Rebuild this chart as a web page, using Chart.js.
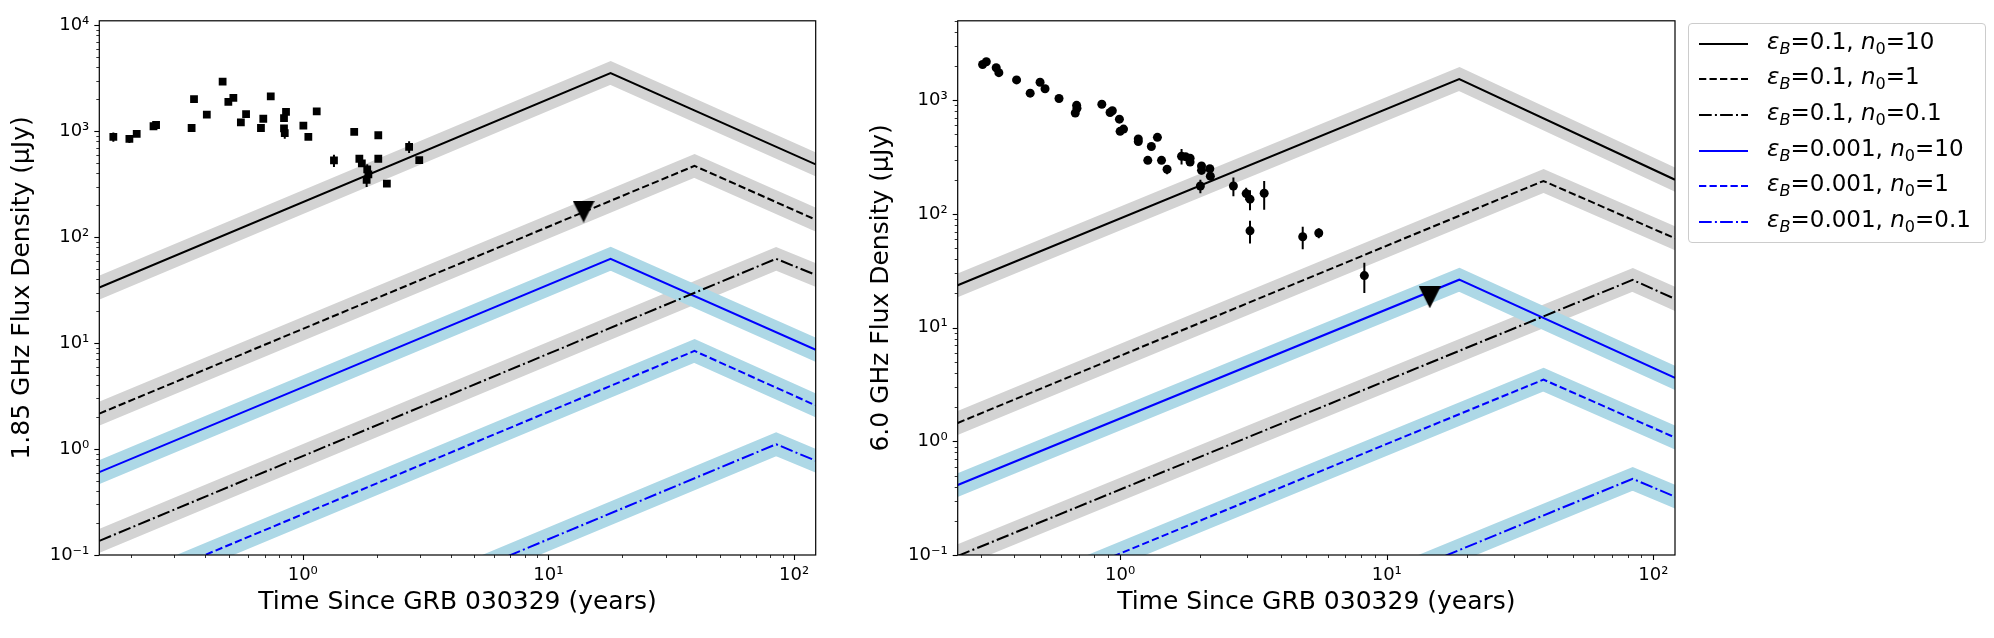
<!DOCTYPE html>
<html>
<head>
<meta charset="utf-8">
<script src="https://cdn.jsdelivr.net/npm/chart.js@4.4.1/dist/chart.umd.min.js"></script>
<style>
  body { margin: 0; background: #fff; width: 1994px; height: 638px; position: relative; overflow: hidden; font-family: 'DejaVu Sans', sans-serif; }
  .panel { position: absolute; top: 0; }
  #legend { position: absolute; left: 1688px; top: 23px; width: 296px; height: 218px; border: 1px solid #cccccc; border-radius: 4px; background: rgba(255,255,255,0.8); }
  .row { position: absolute; left: 0; height: 36px; width: 100%; }
  .row svg { position: absolute; left: 10px; top: 16px; }
  .row span { position: absolute; left: 78px; top: 2px; font-size: 23px; color: #000; white-space: nowrap; }
  .row sub { font-size: 70%; vertical-align: -0.28em; line-height: 0; }
</style>
</head>
<body>
<canvas class="panel" id="left" width="850" height="638" style="left:0"></canvas>
<canvas class="panel" id="right" width="850" height="638" style="left:850px"></canvas>
<div id="legend"></div>
<script>
// ---- model tracks (3 vertices: start, peak, end), years / µJy ----
const trackEps = ['0.1', '0.1', '0.1', '0.001', '0.001', '0.001'];
const trackN0 = ['10', '1', '0.1', '10', '1', '0.1'];

const leftTrackT = [
  [0.1486, 17.9, 122.4], [0.1486, 39.3, 122.4], [0.1486, 84.5, 122.4],
  [0.1486, 17.9, 122.4], [0.1486, 39.3, 122.4], [0.1486, 84.5, 122.4]
];
const leftTrackF = [
  [33.4, 3540, 486], [2.16, 470, 146], [0.136, 62.4, 44],
  [0.605, 62.4, 8.65], [0.0384, 8.43, 2.58], [0.0024, 1.11, 0.776]
];
const rightTrackT = [
  [0.246, 18.7, 120.5], [0.246, 38.7, 120.5], [0.246, 83.6, 120.5],
  [0.246, 18.7, 120.5], [0.246, 38.7, 120.5], [0.246, 83.6, 120.5]
];
const rightTrackF = [
  [23.6, 1535, 200], [1.45, 195, 61], [0.098, 26.3, 17.9],
  [0.413, 26.4, 3.61], [0.0267, 3.49, 1.08], [0.0017, 0.468, 0.326]
];

// ---- 1.85 GHz observations ----
const leftT = [0.1695, 0.197, 0.211, 0.247, 0.253, 0.353, 0.361, 0.407, 0.472, 0.498, 0.522, 0.560, 0.588, 0.676, 0.691, 0.741, 0.839, 0.839, 0.845, 0.855, 1.006, 1.054, 1.14, 1.34, 1.62, 1.70, 1.74, 1.83, 1.85, 1.82, 2.03, 2.03, 2.20, 2.71, 2.98];
const leftF = [883, 845, 942, 1112, 1143, 1071, 2004, 1429, 2936, 1889, 2061, 1211, 1449, 1071, 1309, 2124, 1330, 1060, 960, 1523, 1127, 883, 1535, 529, 983, 549, 496, 436, 391, 347, 915, 549, 320, 711, 533];
const leftErr = [90, 70, 40, 60, 50, 40, 60, 50, 80, 60, 60, 60, 50, 70, 50, 60, 60, 60, 110, 60, 50, 40, 60, 70, 40, 30, 30, 50, 45, 50, 40, 30, 20, 90, 30];
const leftLimitT = [13.9];
const leftLimitF = [174];

// ---- 6.0 GHz observations ----
const rightT = [0.305, 0.315, 0.343, 0.351, 0.409, 0.460, 0.501, 0.523, 0.590, 0.679, 0.687, 0.689, 0.854, 0.917, 0.935, 0.994, 1.0, 1.03, 1.17, 1.17, 1.38, 1.31, 1.27, 1.43, 1.50, 1.70, 1.76, 1.83, 1.83, 2.02, 2.02, 2.0, 2.17, 2.18, 2.66, 2.97, 3.07, 3.07, 3.47, 4.84, 5.56, 8.24];
const rightF = [2063, 2183, 1931, 1750, 1511, 1154, 1439, 1262, 1037, 773, 902, 851, 923, 781, 808, 682, 533, 558, 456, 433, 472, 392, 296, 296, 247, 322, 319, 309, 286, 264, 242, 176, 250, 215, 176, 151, 135, 71, 152, 63, 68, 28.7];
const rightErr = [60, 60, 50, 50, 40, 30, 40, 35, 30, 25, 25, 25, 25, 20, 20, 20, 15, 15, 15, 15, 15, 12, 10, 10, 23, 50, 25, 20, 20, 20, 20, 24, 15, 12, 33, 19, 27, 16, 43, 14, 7, 8.5];
const rightLimitT = [14.5];
const rightLimitF = [18.5];

// ---- axes ----
const leftXRange = [0.1486, 122.4];
const leftYRange = [0.1, 11000];
const rightXRange = [0.246, 120.5];
const rightYRange = [0.1, 5000];
const xTickVals = [1, 10, 100];
const xTickText = ['10\u2070', '10\u00b9', '10\u00b2'];
const leftYTickVals = [0.1, 1, 10, 100, 1000, 10000];
const leftYTickText = ['10\u207b\u00b9', '10\u2070', '10\u00b9', '10\u00b2', '10\u00b3', '10\u2074'];
const rightYTickVals = [0.1, 1, 10, 100, 1000];
const rightYTickText = ['10\u207b\u00b9', '10\u2070', '10\u00b9', '10\u00b2', '10\u00b3'];

// styles
const lineColor = ['#000000', '#000000', '#000000', '#0000ff', '#0000ff', '#0000ff'];
const bandColor = ['#d3d3d3', '#d3d3d3', '#d3d3d3', '#add8e6', '#add8e6', '#add8e6'];
const dashes = [[], [7.3, 3.2], [12.7, 3.2, 2, 3.2], [], [7.3, 3.2], [12.7, 3.2, 2, 3.2]];
const FONT = 'DejaVu Sans';

// downward triangle marker like matplotlib 'v'
const tri = document.createElement('canvas');
tri.width = 22; tri.height = 22;
(function () {
  const c = tri.getContext('2d');
  c.fillStyle = '#000';
  c.beginPath(); c.moveTo(0, 0); c.lineTo(22, 0); c.lineTo(11, 22); c.closePath(); c.fill();
})();

const framePlugin = {
  id: 'frame',
  afterDraw(chart) {
    const { ctx, chartArea: a, scales: { x, y } } = chart;
    const marks = (s) => {
      const out = [];
      const lo = Math.floor(Math.log10(s.min)), hi = Math.ceil(Math.log10(s.max));
      for (let e = lo; e <= hi; e++) {
        for (let k = 1; k < 10; k++) {
          const v = k * Math.pow(10, e);
          if (v >= s.min * 0.999 && v <= s.max * 1.001) out.push({ v, major: k === 1 });
        }
      }
      return out;
    };
    ctx.save();
    ctx.strokeStyle = '#000';
    marks(x).forEach(m => {
      const px = Math.round(x.getPixelForValue(m.v)) + 0.5;
      ctx.lineWidth = m.major ? 1.1 : 0.8;
      ctx.beginPath(); ctx.moveTo(px, a.bottom); ctx.lineTo(px, a.bottom + (m.major ? 5 : 3)); ctx.stroke();
    });
    marks(y).forEach(m => {
      const py = Math.round(y.getPixelForValue(m.v)) + 0.5;
      ctx.lineWidth = m.major ? 1.1 : 0.8;
      ctx.beginPath(); ctx.moveTo(a.left, py); ctx.lineTo(a.left - (m.major ? 5 : 3), py); ctx.stroke();
    });
    ctx.lineWidth = 1.2;
    ctx.strokeRect(a.left, a.top, a.right - a.left, a.bottom - a.top);
    ctx.restore();
  }
};

const errorBarPlugin = {
  id: 'errorBars',
  afterDatasetsDraw(chart) {
    const { ctx, chartArea: a, scales: { x, y } } = chart;
    ctx.save();
    ctx.beginPath(); ctx.rect(a.left, a.top, a.right - a.left, a.bottom - a.top); ctx.clip();
    ctx.strokeStyle = '#000';
    ctx.lineWidth = 2;
    chart.data.datasets.forEach(ds => {
      if (!ds.yErr) return;
      ds.data.forEach((p, i) => {
        const px = x.getPixelForValue(p.x);
        ctx.beginPath();
        ctx.moveTo(px, y.getPixelForValue(p.y - ds.yErr[i]));
        ctx.lineTo(px, y.getPixelForValue(p.y + ds.yErr[i]));
        ctx.stroke();
      });
    });
    ctx.restore();
  }
};

function makePanel(id, o) {
  const datasets = [];
  for (let i = 0; i < 6; i++) {
    const pts = o.trackT[i].map((t, j) => ({ x: t, y: o.trackF[i][j] }));
    datasets.push({
      data: pts, showLine: true, borderColor: lineColor[i], borderWidth: 2, borderDash: dashes[i],
      pointRadius: 0, borderJoinStyle: 'miter', borderCapStyle: 'butt', clip: 0, order: 2
    });
    datasets.push({
      data: pts, showLine: true, borderColor: bandColor[i], borderWidth: 22,
      pointRadius: 0, borderJoinStyle: 'miter', borderCapStyle: 'square', clip: 0, order: i < 3 ? 4 : 3
    });
  }
  datasets.push({
    data: o.obsT.map((t, i) => ({ x: t, y: o.obsF[i] })), yErr: o.obsErr,
    pointStyle: o.marker, pointRadius: o.radius, pointBorderWidth: 0,
    backgroundColor: '#000', borderColor: '#000', order: 1
  });
  datasets.push({
    data: o.limT.map((t, i) => ({ x: t, y: o.limF[i] })),
    pointStyle: tri, pointRadius: 11, order: 0
  });

  new Chart(document.getElementById(id), {
    type: 'scatter',
    data: { datasets },
    plugins: [framePlugin, errorBarPlugin],
    options: {
      responsive: false, animation: false, devicePixelRatio: 1,
      layout: { padding: { top: 17, right: o.padRight, left: 0, bottom: 0 } },
      plugins: { legend: { display: false }, tooltip: { enabled: false } },
      scales: {
        x: {
          type: 'logarithmic', position: 'bottom', min: o.xRange[0], max: o.xRange[1],
          grid: { display: false, drawTicks: false }, border: { display: false },
          afterBuildTicks: s => { s.ticks = xTickVals.map(v => ({ value: v })); },
          afterFit: s => { s.height = 83; },
          ticks: {
            autoSkip: false, maxRotation: 0, padding: 10, color: '#000',
            font: { family: FONT, size: 18 },
            callback: (v, i) => xTickText[i]
          },
          title: {
            display: true, text: 'Time Since GRB 030329 (years)', color: '#000',
            font: { family: FONT, size: 25 }, padding: { top: 0, bottom: 21 }
          }
        },
        y: {
          type: 'logarithmic', position: 'left', min: o.yRange[0], max: o.yRange[1],
          grid: { display: false, drawTicks: false }, border: { display: false },
          afterBuildTicks: s => { s.ticks = o.yTickVals.map(v => ({ value: v })); },
          afterFit: s => { s.width = o.yWidth; },
          ticks: {
            autoSkip: false, padding: 10, color: '#000',
            font: { family: FONT, size: 18 },
            callback: (v, i) => o.yTickText[i]
          },
          title: {
            display: true, text: o.yTitle, color: '#000',
            font: { family: FONT, size: 25 }, padding: { top: o.titlePad, bottom: 0 }
          }
        }
      }
    }
  });
}

makePanel('left', {
  trackT: leftTrackT, trackF: leftTrackF,
  obsT: leftT, obsF: leftF, obsErr: leftErr, marker: 'rect', radius: 5.5,
  limT: leftLimitT, limF: leftLimitF,
  xRange: leftXRange, yRange: leftYRange,
  yTickVals: leftYTickVals, yTickText: leftYTickText,
  yTitle: '1.85 GHz Flux Density (\u03bcJy)', yWidth: 99.3, titlePad: 7.5, padRight: 34.3
});
makePanel('right', {
  trackT: rightTrackT, trackF: rightTrackF,
  obsT: rightT, obsF: rightF, obsErr: rightErr, marker: 'circle', radius: 4.5,
  limT: rightLimitT, limF: rightLimitF,
  xRange: rightXRange, yRange: rightYRange,
  yTickVals: rightYTickVals, yTickText: rightYTickText,
  yTitle: '6.0 GHz Flux Density (\u03bcJy)', yWidth: 107.7, titlePad: 16, padRight: 25
});

// legend (HTML so the subscripts render)
const legend = document.getElementById('legend');
trackEps.forEach((eps, i) => {
  const row = document.createElement('div');
  row.className = 'row';
  row.style.top = (1.7 + 35.6 * i) + 'px';
  const dash = dashes[i].length ? ` stroke-dasharray="${dashes[i].join(' ')}"` : '';
  row.innerHTML =
    `<svg width="49" height="4"><line x1="0" y1="2" x2="49" y2="2" stroke="${lineColor[i]}" stroke-width="2"${dash}/></svg>` +
    `<span><i>\u03b5</i><sub><i>B</i></sub>=${eps}, <i>n</i><sub>0</sub>=${trackN0[i]}</span>`;
  legend.appendChild(row);
});
</script>
</body>
</html>
